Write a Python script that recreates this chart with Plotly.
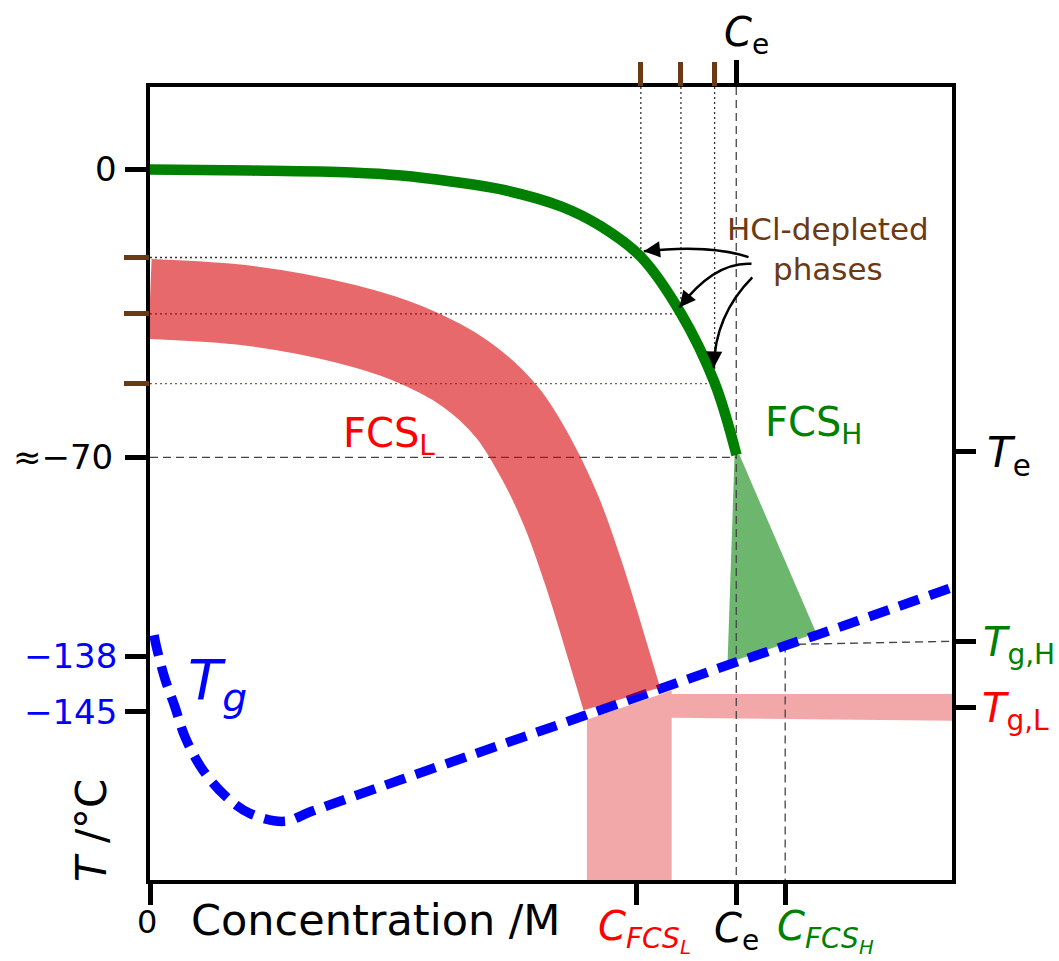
import plotly.graph_objects as go

# ---------------- data (schematic units: x = concentration position 0-100, y = temperature position 0-100) -------------
C_FCS_L = 60.6
C_E = 73.1
C_FCS_H = 79.2
C_DEPL = [61.2, 66.2, 70.4]

T_ZERO = 89.6
T_E = 53.3
T_E_RIGHT = 54.0
T_138 = 28.2
T_145 = 21.2
T_DEPL = [78.5, 71.4, 62.6]
T_GH = 30.1
T_GH_START = 29.7
T_GL = 21.8

left_tick_vals = [T_ZERO, T_E, T_138, T_145]
left_tick_text = ["0", "≈−70", "−138", "−145"]
right_tick_vals = [T_E_RIGHT, T_GH, T_GL]
bottom_tick_vals = [0, C_FCS_L, C_E, C_FCS_H]

# FCS_H liquidus (green)
green_x = [0, 12.69, 25.12, 31.34, 37.56, 43.78, 51.24, 56.22, 61.19, 66.17, 70.40, 73.13]
green_y = [89.59, 89.46, 89.21, 88.83, 88.08, 87.08, 84.94, 82.43, 78.6, 71.5, 62.7, 53.6]

# glass transition Tg (blue dashed)
tg_x = [0.5, 0.87, 1.87, 3.11, 4.35, 6.47, 9.33, 12.44, 16.79, 20.15, 31.34, 54.10, 73.13, 83.08, 100]
tg_y = [30.87, 29.11, 25.35, 21.83, 18.07, 14.05, 10.66, 8.41, 7.40, 8.66, 12.67, 20.70, 27.48, 30.87, 36.89]

# FCS_L band (red): centre line of the band
red_mid_x = [0, 12.44, 24.38, 32.21, 39.30, 44.53, 48.26, 51.37, 53.86, 55.97, 58.83]
red_mid_y = [73.27, 72.40, 70.14, 67.63, 63.86, 58.97, 52.95, 46.30, 39.27, 32.50, 22.84]

# glassy FCS_L region (pink L-shape)
pink_x = [54.48, 65.05, 65.05, 100, 100, 65.05, 65.05, 54.48]
pink_y = [20.2, 23.9, 23.46, 23.46, 20.08, 20.45, 0, 0]

# FCS_H wedge (light green)
wedge_x = [72.89, 73.51, 83.08, 72.01]
wedge_y = [53.58, 53.58, 31.12, 27.35]

# ---------------- styles -------------
FONT = "DejaVu Sans"
BROWN = "#6b3a14"
GREEN = "#008000"
RED = "#ff0000"
BLUE = "#0000ff"
DASHGRAY = "#444444"
X_RANGE = [0, 100]
Y_RANGE = [0, 100]

fig = go.Figure()

# pink region
fig.add_trace(go.Scatter(x=pink_x, y=pink_y, fill="toself", mode="lines",
                         line=dict(width=0), fillcolor="rgba(216,0,3,0.34)", hoverinfo="skip"))
# green wedge
fig.add_trace(go.Scatter(x=wedge_x, y=wedge_y, fill="toself", mode="lines",
                         line=dict(width=0), fillcolor="rgba(0,128,0,0.573)", hoverinfo="skip"))

# dotted guide lines to HCl-depleted phases
dot_colors = ["#333333", "#333333", "#8b5a3c"]
for cx, ty, col in zip(C_DEPL, T_DEPL, dot_colors):
    fig.add_trace(go.Scatter(x=[0, cx], y=[ty, ty], mode="lines",
                             line=dict(color=col, width=1.3, dash="2px,3px"), hoverinfo="skip"))
    fig.add_trace(go.Scatter(x=[cx, cx], y=[100, ty], mode="lines",
                             line=dict(color="#333333", width=1.3, dash="2px,3px"), hoverinfo="skip"))

# dashed guide lines
dash_style = dict(color=DASHGRAY, width=1.3, dash="8px,5px")
fig.add_trace(go.Scatter(x=[0, C_E], y=[T_E, T_E], mode="lines", line=dash_style, hoverinfo="skip"))
fig.add_trace(go.Scatter(x=[C_E, C_E], y=[100, 0], mode="lines", line=dash_style, hoverinfo="skip"))
fig.add_trace(go.Scatter(x=[C_FCS_H, 100], y=[T_GH_START, T_GH], mode="lines", line=dash_style, hoverinfo="skip"))
fig.add_trace(go.Scatter(x=[C_FCS_H, C_FCS_H], y=[T_GH_START, 0], mode="lines", line=dash_style, hoverinfo="skip"))

# green liquidus
fig.add_trace(go.Scatter(x=green_x, y=green_y, mode="lines",
                         line=dict(color=GREEN, width=10.5, shape="spline"), hoverinfo="skip"))
# Tg
fig.add_trace(go.Scatter(x=tg_x, y=tg_y, mode="lines",
                         line=dict(color=BLUE, width=9.5, shape="spline", dash="21px,11px"), hoverinfo="skip"))
# red FCS_L band (translucent, on top)
fig.add_trace(go.Scatter(x=red_mid_x, y=red_mid_y, mode="lines",
                         line=dict(color="rgba(216,0,3,0.588)", width=80, shape="spline"), hoverinfo="skip"))

# dummy traces for extra tick axes
fig.add_trace(go.Scatter(x=[None], y=[None], xaxis="x2", yaxis="y", showlegend=False))
fig.add_trace(go.Scatter(x=[None], y=[None], xaxis="x3", yaxis="y", showlegend=False))
fig.add_trace(go.Scatter(x=[None], y=[None], xaxis="x", yaxis="y2", showlegend=False))
fig.add_trace(go.Scatter(x=[None], y=[None], xaxis="x", yaxis="y3", showlegend=False))

# curved arrows
arrow_paths = [
    "M 74.63,78.54 Q 69.9,80.2 61.57,79.3",
    "M 75.0,77.7 Q 70.4,78.0 66.0,72.2",
    "M 75.1,76.0 Q 70.4,71.2 70.3,64.6",
]
shapes = [dict(type="path", path=p, xref="x", yref="y", line=dict(color="black", width=2.5)) for p in arrow_paths]
arrow_tips = [(61.57, 79.3, 14, -1.5), (66.0, 72.2, 9, -11), (70.3, 64.6, 0.3, -14)]

ann = []
for tx, ty, ax, ay in arrow_tips:
    ann.append(dict(x=tx, y=ty, xref="x", yref="y", text="", showarrow=True, ax=ax, ay=ay,
                    arrowhead=2, arrowsize=1.3, arrowwidth=2.5, arrowcolor="black", standoff=0))


def label(text, x, y, size, color="black", xanchor="center", yanchor="middle", angle=0):
    # position given in axis units; placed through paper coords so it may sit outside the frame
    px = (x - X_RANGE[0]) / (X_RANGE[1] - X_RANGE[0])
    py = (y - Y_RANGE[0]) / (Y_RANGE[1] - Y_RANGE[0])
    ann.append(dict(x=px, y=py, xref="paper", yref="paper", text=text, showarrow=False,
                    xanchor=xanchor, yanchor=yanchor, textangle=angle,
                    font=dict(family=FONT, size=size, color=color)))


# left tick labels
label(left_tick_text[0], -3.9, left_tick_vals[0], 34, xanchor="right")
label(left_tick_text[1], -4.4, left_tick_vals[1], 34, xanchor="right")
label(left_tick_text[2], -3.9, left_tick_vals[2], 34, color=BLUE, xanchor="right")
label(left_tick_text[3], -3.9, left_tick_vals[3], 34, color=BLUE, xanchor="right")
# right tick labels
label("<i>T</i><sub>e</sub>", 104.1, T_E_RIGHT - 0.5, 42, xanchor="left")
label("<i>T</i><sub>g,H</sub>", 103.6, T_GH - 0.5, 40, color=GREEN, xanchor="left")
label("<i>T</i><sub>g,L</sub>", 103.5, T_GL - 0.5, 40, color=RED, xanchor="left")
# bottom tick labels
label("0", -0.4, -5.3, 32)
label("<i>C</i><sub><i>FCS<sub>L</sub></i></sub>", 61.7, -6.4, 40, color=RED)
label("<i>C</i><sub>e</sub>", C_E, -6.4, 40)
label("<i>C</i><sub><i>FCS<sub>H</sub></i></sub>", 84.2, -6.4, 40, color=GREEN)
# top tick label
label("<i>C</i><sub>e</sub>", 74.4, 106.6, 40)
# axis titles
label("Concentration /M", 4.86, -5.0, 43, xanchor="left")
label("<i>T</i> /°C", -7.2, 6.2, 42, angle=-90)
# region labels
label("HCl-depleted<br>phases", 84.5, 79.6, 31, color=BROWN)
label("FCS<sub>L</sub>", 23.8, 56.0, 40, color=RED, xanchor="left")
label("FCS<sub>H</sub>", 76.4, 57.4, 40, color=GREEN, xanchor="left")
label("<i>T<sub>g</sub></i>", 4.5, 24.8, 56, color=BLUE, xanchor="left")

common = dict(showgrid=False, zeroline=False, showticklabels=False, fixedrange=True)
fig.update_layout(
    width=1059, height=961,
    margin=dict(l=150, r=107, t=87, b=81),
    paper_bgcolor="white", plot_bgcolor="white",
    showlegend=False, hovermode=False,
    font=dict(family=FONT),
    xaxis=dict(range=X_RANGE, showline=True, linewidth=4, linecolor="black", mirror=True,
               ticks="outside", tickvals=bottom_tick_vals, ticklen=21, tickwidth=5, tickcolor="black",
               **common),
    xaxis2=dict(range=X_RANGE, overlaying="x", side="top", anchor="y", showline=False,
                ticks="outside", tickvals=[C_E], ticklen=26, tickwidth=5, tickcolor="black", **common),
    xaxis3=dict(range=X_RANGE, overlaying="x", side="top", anchor="y", showline=False,
                ticks="outside", tickvals=C_DEPL, ticklen=24, tickwidth=5, tickcolor=BROWN, **common),
    yaxis=dict(range=Y_RANGE, showline=True, linewidth=4, linecolor="black", mirror=True,
               ticks="outside", tickvals=left_tick_vals, ticklen=21, tickwidth=5, tickcolor="black",
               **common),
    yaxis2=dict(range=Y_RANGE, overlaying="y", side="left", anchor="x", showline=False,
                ticks="outside", tickvals=T_DEPL, ticklen=25, tickwidth=5, tickcolor=BROWN, **common),
    yaxis3=dict(range=Y_RANGE, overlaying="y", side="right", anchor="x", showline=False,
                ticks="outside", tickvals=right_tick_vals, ticklen=23, tickwidth=5, tickcolor="black",
                **common),
    shapes=shapes,
    annotations=ann,
)

fig.write_html("out.html")
